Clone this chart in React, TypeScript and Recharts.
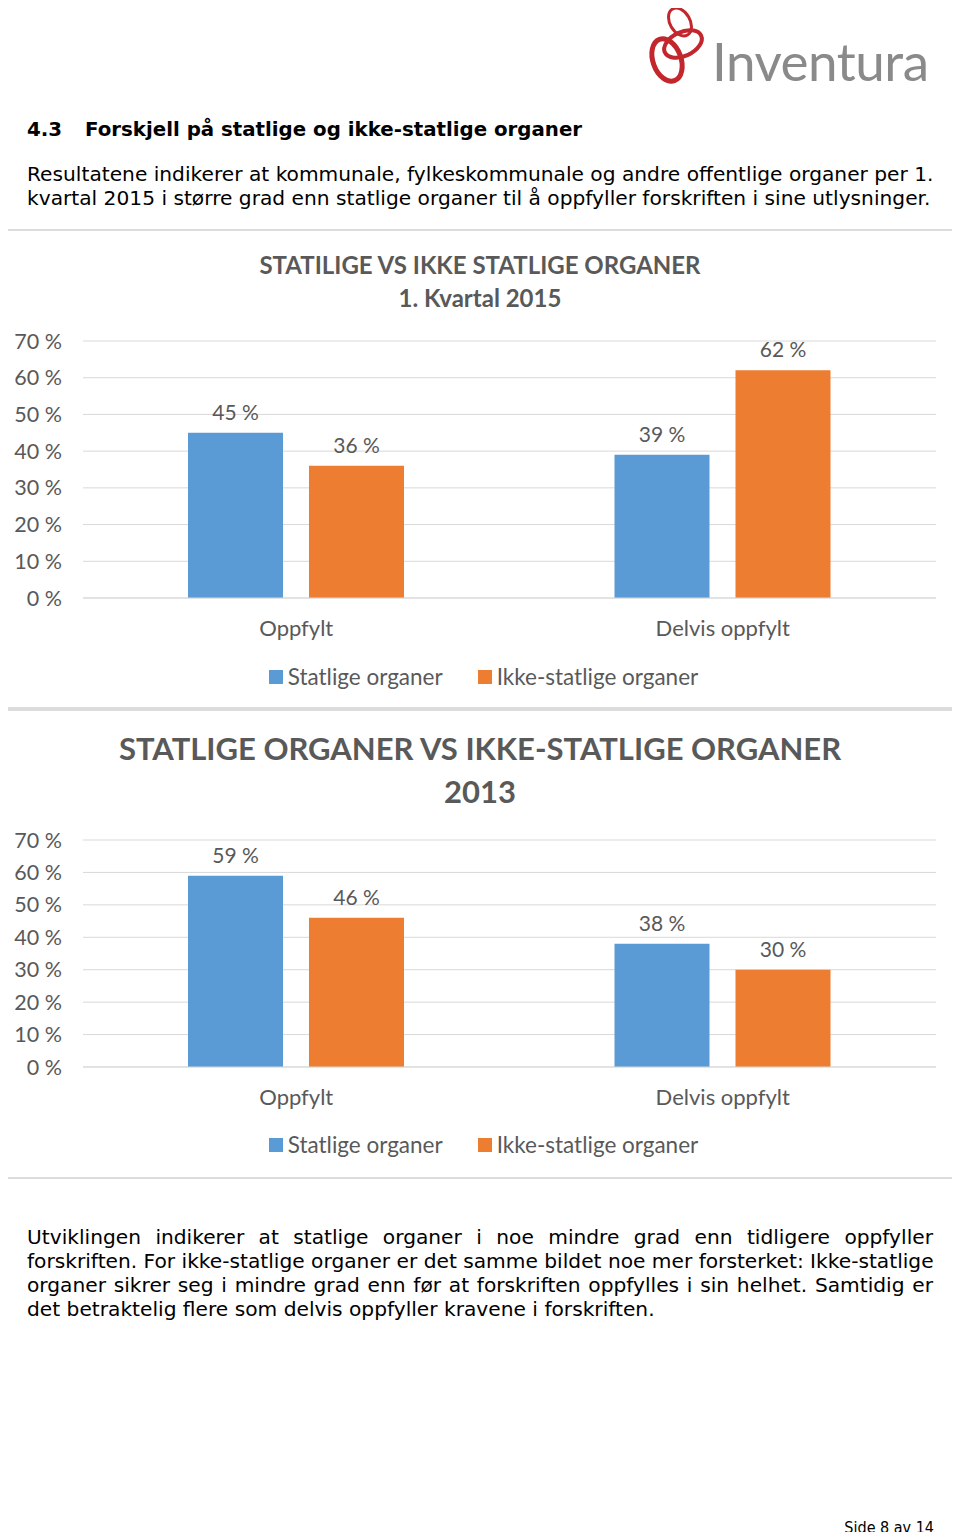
import React from "react";
import {
  BarChart,
  Bar,
  XAxis,
  YAxis,
  CartesianGrid,
  LabelList,
  Legend,
} from "recharts";

const categories = ["Oppfylt", "Delvis oppfylt"];
const seriesNames = ["Statlige organer", "Ikke-statlige organer"];
const statlige2015 = [45, 39];
const ikkeStatlige2015 = [36, 62];
const statlige2013 = [59, 38];
const ikkeStatlige2013 = [46, 30];
const yTicks = [0, 10, 20, 30, 40, 50, 60, 70];

const BLUE = "#5B9BD5";
const ORANGE = "#ED7D31";
const GREY = "#595959";
const CHART_FONT = "Lato, 'Noto Sans', sans-serif";
const BODY_FONT = "'DejaVu Sans', Verdana, sans-serif";

const buildRows = (a: number[], b: number[]) =>
  categories.map((category, i) => ({ category, statlige: a[i], ikke: b[i] }));

const pct = (v: number) => `${v} %`;

function ChartLegend() {
  const colors = [BLUE, ORANGE];
  return (
    <div
      style={{
        display: "flex",
        justifyContent: "center",
        gap: 35,
        fontFamily: CHART_FONT,
        fontSize: 22.5,
        color: GREY,
        lineHeight: "24px",
        paddingLeft: 7,
      }}
    >
      {seriesNames.map((name, i) => (
        <div key={name} style={{ display: "flex", alignItems: "center" }}>
          <span
            style={{
              display: "inline-block",
              width: 14,
              height: 14,
              background: colors[i],
              marginRight: 5,
            }}
          />
          {name}
        </div>
      ))}
    </div>
  );
}

interface PanelProps {
  top: number;
  height: number;
  plotTop: number;
  plotBottom: number;
  legendTop: number;
  titleLines: string[];
  titleSize: number;
  titleCenters: number[];
  a: number[];
  b: number[];
}

function Panel({ top, height, plotTop, plotBottom, legendTop, titleLines, titleSize, titleCenters, a, b }: PanelProps) {
  const data = buildRows(a, b);
  const W = 952;
  const H = height - 4;
  const xAxisHeight = H - plotBottom;
  return (
    <div
      style={{
        position: "absolute",
        left: 1,
        top,
        width: 958,
        height,
        boxSizing: "border-box",
        border: "2px solid #dcdcdc",
        background: "#fff",
      }}
    >
      {titleLines.map((line, i) => (
        <div
          key={line}
          style={{
            position: "absolute",
            left: 0,
            width: W + 2,
            top: titleCenters[i] - titleSize * 0.7,
            lineHeight: `${titleSize * 1.4}px`,
            textAlign: "center",
            fontFamily: CHART_FONT,
            fontWeight: 700,
            fontSize: titleSize,
            color: GREY,
          }}
        >
          {line}
        </div>
      ))}
      <div style={{ position: "absolute", left: 0, top: 0 }}>
        <BarChart
          width={W + 2}
          height={H}
          data={data}
          margin={{ top: plotTop, right: 21, left: 0, bottom: 0 }}
          barSize={95}
          barGap={26}
        >
          <CartesianGrid vertical={false} stroke="#d9d9d9" />
          <XAxis
            dataKey="category"
            height={xAxisHeight}
            axisLine={{ stroke: "#d9d9d9" }}
            tickLine={false}
            tickSize={0}
            tickMargin={22}
            tick={{ fill: GREY, fontSize: 22, fontFamily: CHART_FONT }}
          />
          <YAxis
            width={80}
            domain={[0, 70]}
            ticks={yTicks}
            tickFormatter={pct}
            axisLine={false}
            tickLine={false}
            tickSize={0}
            tickMargin={21}
            tick={{ fill: GREY, fontSize: 21.5, fontFamily: CHART_FONT }}
          />
          <Legend
            verticalAlign="middle"
            align="center"
            wrapperStyle={{ top: legendTop, left: 0, width: W + 2 }}
            content={() => <ChartLegend />}
          />
          <Bar dataKey="statlige" name={seriesNames[0]} fill={BLUE} isAnimationActive={false}>
            <LabelList
              dataKey="statlige"
              position="top"
              offset={13}
              formatter={(v: any) => pct(v)}
              style={{ fill: GREY, fontSize: 21, fontFamily: CHART_FONT }}
            />
          </Bar>
          <Bar dataKey="ikke" name={seriesNames[1]} fill={ORANGE} isAnimationActive={false}>
            <LabelList
              dataKey="ikke"
              position="top"
              offset={13}
              formatter={(v: any) => pct(v)}
              style={{ fill: GREY, fontSize: 21, fontFamily: CHART_FONT }}
            />
          </Bar>
        </BarChart>
      </div>
    </div>
  );
}

function Logo() {
  return (
    <div style={{ position: "absolute", left: 646, top: 2, width: 300, height: 90 }}>
      <svg width={70} height={86} style={{ position: "absolute", left: 0, top: 0 }}>
        <g fill="none" stroke="#c1272d">
          <ellipse cx={34} cy={20} rx={10} ry={15} transform="rotate(-30 34 20)" strokeWidth={3} />
          <ellipse cx={37} cy={42} rx={20} ry={12} transform="rotate(-25 37 42)" strokeWidth={4} />
          <ellipse cx={21} cy={58} rx={14} ry={22} transform="rotate(-20 21 58)" strokeWidth={5} />
        </g>
      </svg>
      <div
        style={{
          position: "absolute",
          left: 66,
          top: 24,
          fontFamily: "Lato, 'Open Sans', sans-serif",
          fontSize: 53,
          lineHeight: "70px",
          color: "#8a8a8a",
          letterSpacing: -0.5,
        }}
      >
        Inventura
      </div>
    </div>
  );
}

const lineStyle = (top: number, justify: boolean): React.CSSProperties => ({
  position: "absolute",
  left: 27,
  top,
  width: 906,
  fontFamily: BODY_FONT,
  fontSize: 20.2,
  lineHeight: "24px",
  color: "#000",
  textAlign: justify ? "justify" : "left",
  textAlignLast: justify ? "justify" : "left",
  whiteSpace: "nowrap",
});

export default function App() {
  const introLines = [
    "Resultatene indikerer at kommunale, fylkeskommunale og andre offentlige organer per 1.",
    "kvartal 2015 i større grad enn statlige organer til å oppfyller forskriften i sine utlysninger.",
  ];
  const outroLines = [
    "Utviklingen indikerer at statlige organer i noe mindre grad enn tidligere oppfyller",
    "forskriften. For ikke-statlige organer er det samme bildet noe mer forsterket: Ikke-statlige",
    "organer sikrer seg i mindre grad enn før at forskriften oppfylles i sin helhet. Samtidig er",
    "det betraktelig flere som delvis oppfyller kravene i forskriften.",
  ];
  return (
    <div style={{ position: "relative", width: 960, height: 1540, margin: -8, background: "#fff", overflow: "hidden" }}>
      <Logo />
      <div
        style={{
          position: "absolute",
          left: 27,
          top: 118,
          fontFamily: BODY_FONT,
          fontWeight: 700,
          fontSize: 19.8,
          lineHeight: "24px",
        }}
      >
        <span style={{ display: "inline-block", width: 58 }}>4.3</span>
        Forskjell på statlige og ikke-statlige organer
      </div>
      {introLines.map((l, i) => (
        <div key={l} style={lineStyle(162 + i * 24, false)}>
          {l}
        </div>
      ))}
      <Panel
        top={229}
        height={480}
        plotTop={110}
        plotBottom={367}
        legendTop={434}
        titleLines={["STATILIGE VS IKKE STATLIGE ORGANER", "1. Kvartal 2015"]}
        titleSize={24}
        titleCenters={[34, 67]}
        a={statlige2015}
        b={ikkeStatlige2015}
      />
      <Panel
        top={709}
        height={470}
        plotTop={129}
        plotBottom={356}
        legendTop={422}
        titleLines={["STATLIGE ORGANER VS IKKE-STATLIGE ORGANER", "2013"]}
        titleSize={31}
        titleCenters={[38, 81]}
        a={statlige2013}
        b={ikkeStatlige2013}
      />
      {outroLines.map((l, i) => (
        <div key={l} style={lineStyle(1225 + i * 24, i < outroLines.length - 1)}>
          {l}
        </div>
      ))}
      <div
        style={{
          position: "absolute",
          right: 26,
          top: 1518,
          fontFamily: "'DejaVu Sans Condensed', 'DejaVu Sans', sans-serif",
          fontSize: 16,
          lineHeight: "20px",
        }}
      >
        Side 8 av 14
      </div>
    </div>
  );
}
